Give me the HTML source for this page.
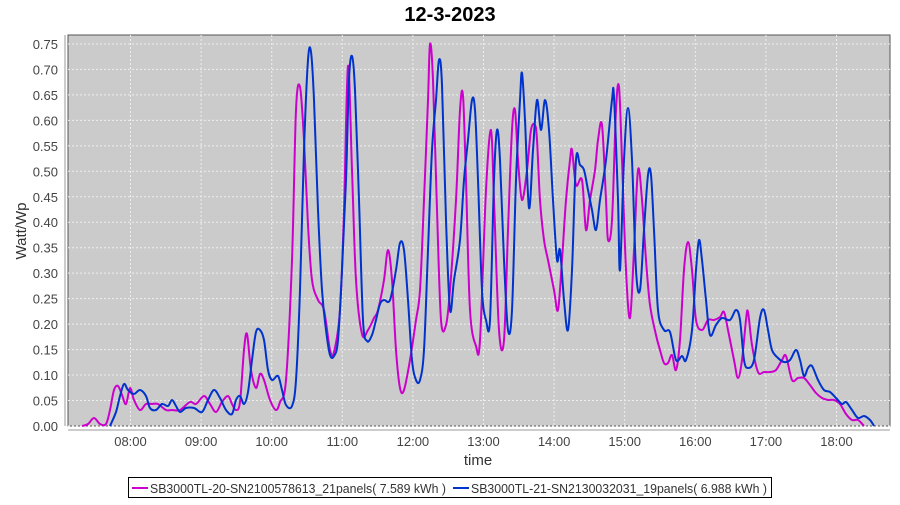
<!DOCTYPE html>
<html><head><meta charset="utf-8"><style>
body{margin:0;background:#fff;}
svg text{font-family:"Liberation Sans",sans-serif;}
</style></head><body>
<svg width="900" height="500" xmlns="http://www.w3.org/2000/svg">
<rect width="900" height="500" fill="#fff"/>
<text x="450" y="21" text-anchor="middle" font-size="20" font-weight="bold">12-3-2023</text>
<rect x="68" y="35" width="822" height="391" fill="#cbcbcb" stroke="#555" stroke-width="1"/>
<g stroke="#eee" stroke-dasharray="2,2" stroke-width="1" id="grid"></g>
<g id="yt" font-size="13" fill="#444" text-anchor="end"></g>
<g id="xt" font-size="13" fill="#444" text-anchor="middle"></g>
<line x1="65" y1="35" x2="65" y2="426" stroke="#999"/>
<line x1="68" y1="430" x2="890" y2="430" stroke="#999"/>
<path id="m" fill="none" stroke="#cc00cc" stroke-width="2"/>
<path id="b" fill="none" stroke="#0033cc" stroke-width="2"/>
<text x="478" y="465" text-anchor="middle" font-size="15" fill="#333">time</text>
<text transform="translate(26,231) rotate(-90)" text-anchor="middle" font-size="15" fill="#333">Watt/Wp</text>
<rect x="128.5" y="477.5" width="643" height="20" fill="#fff" stroke="#000"/>
<line x1="132" y1="488" x2="148" y2="488" stroke="#cc00cc" stroke-width="2"/>
<text x="150" y="493" font-size="13" fill="#333" textLength="296" lengthAdjust="spacingAndGlyphs">SB3000TL-20-SN2100578613_21panels( 7.589 kWh )</text>
<line x1="453" y1="488" x2="469" y2="488" stroke="#0033cc" stroke-width="2"/>
<text x="471" y="493" font-size="13" fill="#333" textLength="296" lengthAdjust="spacingAndGlyphs">SB3000TL-21-SN2130032031_19panels( 6.988 kWh )</text>
</svg>
<script>
var NS="http://www.w3.org/2000/svg";
function el(p,t,a,tx){var e=document.createElementNS(NS,t);for(var k in a)e.setAttribute(k,a[k]);if(tx)e.textContent=tx;document.getElementById(p).appendChild(e);}
for(var i=0;i<=15;i++){var y=426-i*25.47;el('grid','line',{x1:68,x2:890,y1:y,y2:y});el('yt','text',{x:58,y:y+5},(i*0.05).toFixed(2));}
for(var h=8;h<=18;h++){var x=130.5+(h-8)*70.6;el('grid','line',{x1:x,x2:x,y1:35,y2:426});el('xt','text',{x:x,y:446},(h<10?'0':'')+h+':00');}
function sm(a){var d='M'+a[0]+','+a[1];for(var i=0;i<a.length-2;i+=2){var p0x=a[Math.max(i-2,0)],p0y=a[Math.max(i-1,1)],p1x=a[i],p1y=a[i+1],p2x=a[i+2],p2y=a[i+3],p3x=a[Math.min(i+4,a.length-2)],p3y=a[Math.min(i+5,a.length-1)];
d+=' C'+(p1x+(p2x-p0x)/6)+','+(p1y+(p2y-p0y)/6)+' '+(p2x-(p3x-p1x)/6)+','+(p2y-(p3y-p1y)/6)+' '+p2x+','+p2y;}return d;}
var M=[82,426,88,424,94,418,100,424,106,424,110,410,114,390,118,386,122,395,126,404,130,388,134,400,140,410,146,404,152,404,158,404,166,410,172,410,180,410,190,402,196,404,204,396,210,404,216,412,222,402,228,396,232,404,236,410,240,402,244,350,247,334,251,370,256,388,260,374,264,380,270,400,276,410,280,402,286,380,292,260,296,110,300,87,304,140,308,225,312,280,318,300,324,310,330,350,334,352,340,310,344,210,348,66,352,170,356,280,362,334,368,330,374,318,378,310,384,280,388,250,392,280,396,350,400,388,404,390,410,360,416,320,420,290,424,200,428,100,430,44,433,80,437,210,441,320,446,325,450,290,456,200,460,110,463,96,466,180,470,310,476,346,480,340,486,190,491,130,494,200,499,330,504,340,508,230,512,130,515,110,518,160,522,200,527,170,531,130,535,125,537,140,540,200,544,240,548,260,554,290,558,310,562,260,566,200,570,160,572,150,576,185,582,180,586,230,590,200,595,170,598,140,602,125,606,200,608,240,612,220,616,110,619,87,622,160,626,270,630,318,634,250,638,170,642,200,646,260,650,305,656,335,660,350,664,363,668,363,672,355,676,370,680,340,684,270,688,242,692,270,696,320,702,330,708,320,714,320,720,317,724,312,728,330,734,360,738,378,742,360,746,320,748,312,752,345,758,372,764,372,770,372,776,370,782,360,786,356,792,380,798,378,804,378,810,385,816,393,822,398,828,400,834,400,840,404,846,414,852,420,858,420,864,426];
var B=[110,426,116,412,120,396,124,384,128,390,134,394,140,390,146,396,150,408,156,410,162,404,168,406,172,400,176,406,180,412,186,408,194,408,202,412,208,400,214,390,220,398,226,410,232,414,236,400,240,396,244,404,248,392,252,360,256,332,260,330,264,340,268,370,272,380,278,376,282,390,286,405,292,406,296,380,300,290,304,150,308,60,311,52,314,100,318,210,322,290,326,330,330,355,334,356,338,340,342,270,346,180,349,80,352,56,355,90,359,200,363,320,367,341,372,335,376,320,380,304,384,300,390,300,396,270,400,243,404,250,408,300,412,360,416,380,420,380,424,350,428,250,432,150,436,100,439,60,442,85,446,220,450,310,454,280,460,240,464,180,468,140,472,100,475,110,478,180,482,290,486,320,490,320,494,180,497,130,500,160,504,260,508,330,512,310,516,180,520,100,522,73,525,120,529,208,533,150,537,100,541,130,545,100,549,130,553,200,557,260,560,250,564,300,568,330,572,270,576,160,580,165,584,170,588,190,592,210,596,230,600,200,606,160,612,100,614,97,618,200,620,270,624,160,628,108,632,160,636,270,640,290,644,230,648,175,651,175,654,230,658,310,664,330,670,332,676,360,682,356,686,360,692,330,696,270,699,240,702,260,706,300,710,335,716,325,722,318,730,320,736,310,740,320,744,360,748,368,754,360,760,318,764,310,768,330,772,350,778,358,784,362,790,360,796,350,800,360,804,376,808,368,812,366,818,380,824,390,830,392,836,398,842,404,846,402,852,410,858,418,864,416,870,420,874,426];
document.getElementById('m').setAttribute('d',sm(M));
document.getElementById('b').setAttribute('d',sm(B));
</script>
</body></html>
